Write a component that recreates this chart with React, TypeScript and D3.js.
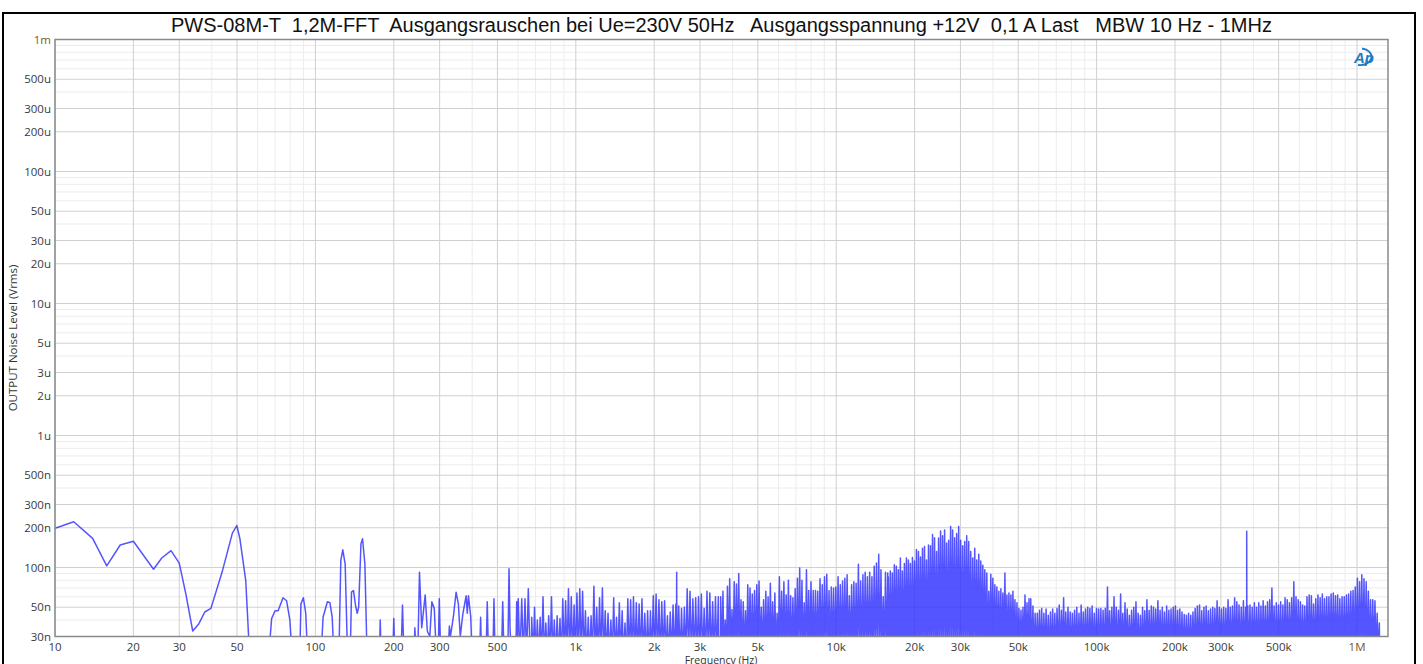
import React from "react";
import * as d3 from "d3";

const W = 1423;
const H = 664;
const plot = { left: 55, top: 39.5, right: 1388, bottom: 636.5 };

const title =
  "PWS-08M-T  1,2M-FFT  Ausgangsrauschen bei Ue=230V 50Hz   Ausgangsspannung +12V  0,1 A Last   MBW 10 Hz - 1MHz";

// readings below the 30n axis floor are written as 20 nV
const FLOOR_NV = 20;

// 10 Hz .. 660 Hz, traced point by point (Hz / nV)
const lowFreqHz = [
  10, 11.8, 13.95, 15.8, 17.8, 20, 23.9, 25.7, 27.9, 30, 31.8, 33.8, 35.7, 37.6, 39.7, 44, 48, 49.9, 51.3, 54, 56,
  66, 67.9, 70, 71.9, 75.1, 77.5, 79.8, 81.5, 87, 88, 89.9, 91.8, 93.5, 105, 107, 111.2, 113.7, 116, 118,
  123, 125.2, 127.4, 130.1, 133, 136, 137.6, 140, 142.5, 144.7, 146.6, 149.6, 151.7, 154.9, 158,
  176, 177.4, 179, 198, 200, 202, 213, 216, 219, 239, 241, 244, 247, 251, 256, 264, 269, 275, 280, 286, 292,
  296, 299, 303, 322, 327, 330, 339, 347, 354, 360, 368, 379, 383, 387, 395, 400, 427, 431, 435, 452, 457, 462,
  480, 485, 490, 518, 524, 530, 548, 554, 559, 566, 588, 593, 597, 601, 610, 620, 629, 638, 647, 657, 668,
];
const lowLevelNv = [
  198, 222, 166, 103, 148, 158, 97, 118, 134, 108, 63, 33, 37.5, 46, 49, 95, 182, 208, 165, 80, 20,
  20, 41, 47, 47, 59, 56, 40, 20, 20, 53, 59, 45, 20, 20, 42, 55, 54, 42, 20,
  20, 113, 136, 106, 20, 20, 65, 67, 52, 45, 50, 151, 165, 106, 20,
  20, 40, 20, 20, 41, 20, 20, 52, 20, 20, 35, 20, 20, 92, 35, 62, 33, 30, 55, 49, 20,
  20, 58, 20, 20, 36, 30, 43, 65, 53, 30, 44, 61, 45, 61, 42, 20, 20, 42, 20, 20, 55, 20,
  20, 58, 20, 20, 55, 20, 20, 98, 35, 20, 20, 55, 30, 58, 20, 58, 20, 58, 20, 69, 20,
];

// dense FFT region: spike peaks read across each band (nV)
const bandEdgesHz = [
  [677, 3525],
  [3600, 15770],
  [15850, 55000],
  [55840, 1218000],
];
const band1kPeaksNv = [
  42, 50, 40, 42, 60, 38, 43, 60, 40, 43, 41, 58, 56, 69, 60, 52, 64, 69, 66, 47, 42, 43, 72, 50, 59, 70, 47, 45,
  40, 59, 42, 54, 47, 38, 58, 57, 60, 54, 53, 58, 45, 47, 47, 61, 63, 57, 55, 56, 43, 46, 52, 53, 51, 49, 50, 69,
  66, 58, 59, 60, 63, 49, 66, 64, 55, 60, 60,
];
const band5kPeaksNv = [
  60, 66, 40, 72, 82, 48, 78, 75, 90, 57, 55, 47, 74, 70, 63, 67, 74, 79, 50, 57, 66, 60, 76, 55, 64, 45, 85, 66,
  78, 62, 80, 61, 59, 69, 83, 99, 80, 54, 96, 67, 78, 67, 67, 66, 82, 74, 85, 89, 67, 71, 70, 71, 85, 74, 79, 83,
  88, 61, 74, 78, 76, 106, 79, 88, 92, 85, 92, 85, 102, 108, 126, 96, 60, 92, 91,
];
const band30kPeaksNv = [
  85, 94, 91, 105, 102, 96, 118, 94, 107, 118, 114, 107, 119, 112, 137, 132, 120, 140, 144, 114, 148, 146, 178,
  168, 132, 167, 189, 174, 192, 153, 161, 204, 192, 168, 181, 204, 161, 146, 157, 174, 157, 132, 118, 140, 114,
  126, 112, 104, 96, 91, 66, 89, 83, 74, 71, 66, 69, 64, 91, 62, 64, 62, 66, 57, 54, 49, 47.5, 50, 62, 54, 58,
];
const band300kPeaksNv = [
  58, 51, 45, 45, 47.5, 49, 45, 48.5, 43.5, 46, 48.5, 45, 49, 52, 47.5, 59, 46, 50, 46, 45, 47.5, 50, 45, 52, 46,
  48.5, 50, 49, 51, 45, 49, 48.5, 49, 47.5, 49, 71, 47, 50, 60, 50, 47.5, 63, 45, 54, 48.5, 43.5, 47.5, 50, 55, 45,
  43.5, 50, 47, 57, 47.5, 51, 50, 48.5, 56, 47.5, 50, 46, 51, 47.5, 48.5, 50, 51, 47.5, 48.5, 46, 44, 43.5, 45,
  43.5, 46, 49, 51, 52, 47, 50, 51, 47, 48.5, 50, 49, 56, 50, 48.5, 50, 49, 57, 50, 51, 59, 55, 52, 50, 56, 50, 51,
  52, 50, 54, 50, 54, 51, 56, 51, 55, 57, 70, 51, 54, 52, 55, 52, 59, 57, 54, 59, 78, 60, 57, 55, 52, 51, 60, 62,
  61, 53, 58, 62, 59, 63, 58, 60, 60, 63, 64, 61, 62, 58, 60, 60, 62, 63, 66, 67, 71, 83, 78, 88, 82, 78, 66, 57,
  57, 56, 45, 38,
];
const bandPeaks = [band1kPeaksNv, band5kPeaksNv, band30kPeaksNv, band300kPeaksNv];

// single tones standing out of the noise
const toneHz = [2440, 377000];
const toneNv = [92, 188];

const xTickHz = [10, 20, 30, 50, 100, 200, 300, 500, 1e3, 2e3, 3e3, 5e3, 1e4, 2e4, 3e4, 5e4, 1e5, 2e5, 3e5, 5e5, 1e6];
const xTickLabels = ["10", "20", "30", "50", "100", "200", "300", "500", "1k", "2k", "3k", "5k", "10k", "20k", "30k", "50k", "100k", "200k", "300k", "500k", "1M"];
const yTickV = [1e-3, 5e-4, 3e-4, 2e-4, 1e-4, 5e-5, 3e-5, 2e-5, 1e-5, 5e-6, 3e-6, 2e-6, 1e-6, 5e-7, 3e-7, 2e-7, 1e-7, 5e-8, 3e-8];
const yTickLabels = ["1m", "500u", "300u", "200u", "100u", "50u", "30u", "20u", "10u", "5u", "3u", "2u", "1u", "500n", "300n", "200n", "100n", "50n", "30n"];

function buildTrace(): [number, number][] {
  const pts: [number, number][] = lowFreqHz.map((f, i) => [f, lowLevelNv[i]]);
  bandEdgesHz.forEach(([f0, f1], b) => {
    const peaks = bandPeaks[b];
    const n = peaks.length;
    const fs = peaks.map((_, i) => f0 * Math.pow(f1 / f0, i / (n - 1)));
    pts.push([f0 / 1.003, FLOOR_NV]);
    fs.forEach((f, i) => {
      if (i > 0) pts.push([Math.sqrt(fs[i - 1] * f), FLOOR_NV]);
      pts.push([f, peaks[i]]);
    });
    pts.push([f1 * 1.003, FLOOR_NV]);
  });
  toneHz.forEach((f, i) => {
    pts.push([f / 1.002, FLOOR_NV], [f, toneNv[i]], [f * 1.002, FLOOR_NV]);
  });
  return pts.sort((a, b) => a[0] - b[0]);
}

export default function App() {
  const x = d3.scaleLog().domain([10, 1.315e6]).range([plot.left, plot.right]);
  const y = d3.scaleLog().domain([3e-8, 1e-3]).range([plot.bottom, plot.top]);

  const trace = buildTrace();
  const line = d3
    .line<[number, number]>()
    .x((d) => x(d[0]))
    .y((d) => y(d[1] * 1e-9));

  // grid
  const xGrid: { v: number; major: boolean }[] = [];
  for (let dec = 10; dec <= 1e6; dec *= 10) {
    for (let m = 1; m <= 9; m++) {
      const v = dec * m;
      if (v > 1.315e6) continue;
      xGrid.push({ v, major: [1, 2, 3, 5].includes(m) });
    }
  }
  const yGrid: { v: number; major: boolean }[] = [];
  for (let dec = 1e-8; dec <= 1e-3 * 1.01; dec *= 10) {
    for (let m = 1; m <= 9; m++) {
      const v = dec * m;
      if (v < 2.99e-8 || v > 1.001e-3) continue;
      yGrid.push({ v, major: [1, 2, 3, 5].includes(m) });
    }
  }

  const labelFont = "'Open Sans', 'Liberation Sans', sans-serif";

  return (
    <svg
      width={W}
      height={H}
      style={{ position: "absolute", left: 0, top: 0, display: "block", background: "#fff" }}
    >
      <defs>
        <clipPath id="plotClip">
          <rect x={plot.left} y={plot.top} width={plot.right - plot.left} height={plot.bottom - plot.top} />
        </clipPath>
      </defs>

      <rect x={3} y={13} width={1412} height={H} fill="#fff" stroke="#000" strokeWidth={2} />

      <text
        x={(plot.left + plot.right) / 2}
        y={32}
        textAnchor="middle"
        fontFamily="'Liberation Sans', Arial, sans-serif"
        fontSize={20}
        fill="#111"
        style={{ whiteSpace: "pre" }}
      >
        {title}
      </text>

      {/* grid */}
      <g>
        {xGrid.filter((g) => !g.major).map((g, i) => (
          <line key={"xm" + i} x1={x(g.v)} x2={x(g.v)} y1={plot.top} y2={plot.bottom} stroke="#ececec" />
        ))}
        {yGrid.filter((g) => !g.major).map((g, i) => (
          <line key={"ym" + i} x1={plot.left} x2={plot.right} y1={y(g.v)} y2={y(g.v)} stroke="#ececec" />
        ))}
        {xGrid.filter((g) => g.major).map((g, i) => (
          <line key={"xM" + i} x1={x(g.v)} x2={x(g.v)} y1={plot.top} y2={plot.bottom} stroke="#d0d0d0" />
        ))}
        {yGrid.filter((g) => g.major).map((g, i) => (
          <line key={"yM" + i} x1={plot.left} x2={plot.right} y1={y(g.v)} y2={y(g.v)} stroke="#d0d0d0" />
        ))}
      </g>

      {/* trace */}
      <path
        d={line(trace) || ""}
        fill="none"
        stroke="#3030ff"
        strokeOpacity={0.82}
        strokeWidth={1.5}
        strokeLinejoin="round"
        clipPath="url(#plotClip)"
      />

      <rect
        x={plot.left}
        y={plot.top}
        width={plot.right - plot.left}
        height={plot.bottom - plot.top}
        fill="none"
        stroke="#8a8a8a"
        strokeWidth={1.5}
      />

      {/* y ticks */}
      <g fontFamily={labelFont} fontSize={11.5} textAnchor="end">
        {yTickV.map((v, i) => (
          <text key={i} x={51} y={y(v)} dy="0.35em" fill={yTickLabels[i] === "1m" ? "#7a5a1c" : "#3a3a3a"}>
            {yTickLabels[i]}
          </text>
        ))}
      </g>

      {/* x ticks */}
      <g fontFamily={labelFont} fontSize={11.5} textAnchor="middle">
        {xTickHz.map((v, i) => (
          <text key={i} x={x(v)} y={651} fill={xTickLabels[i] === "1M" ? "#7a5a1c" : "#3a3a3a"}>
            {xTickLabels[i]}
          </text>
        ))}
      </g>

      <text x={721} y={663.5} textAnchor="middle" fontFamily={labelFont} fontSize={10.5} fill="#333">
        Frequency (Hz)
      </text>
      <text
        transform="translate(17,338) rotate(-90)"
        textAnchor="middle"
        fontFamily={labelFont}
        fontSize={11.5}
        fill="#333"
      >
        OUTPUT Noise Level (Vrms)
      </text>

      {/* Ap logo */}
      <g>
        <path
          d="M1362,48.5 A11,8 0 1 1 1358,65"
          fill="none"
          stroke="#1f7ac4"
          strokeWidth={1.8}
        />
        <text
          x={1354}
          y={62.5}
          fontFamily="'Liberation Sans', Arial, sans-serif"
          fontStyle="italic"
          fontWeight="bold"
          fontSize={15}
          fill="#1f7ac4"
        >
          Ap
        </text>
      </g>
    </svg>
  );
}
